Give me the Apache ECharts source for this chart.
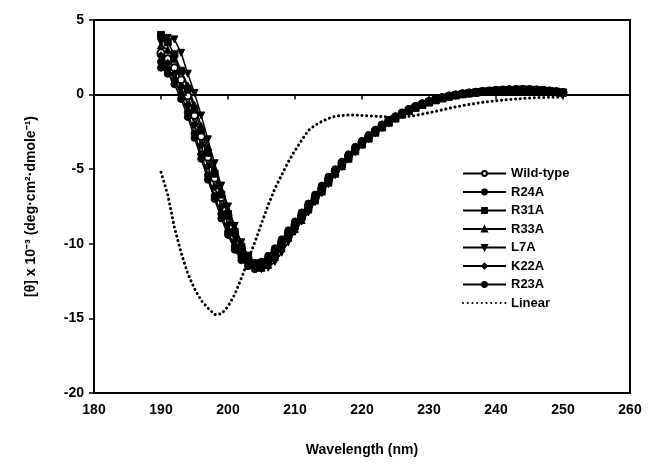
<!DOCTYPE html>
<html>
<head>
<meta charset="utf-8">
<script src="https://cdn.jsdelivr.net/npm/echarts@6/dist/echarts.min.js"></script>
<style>
  html, body { margin: 0; padding: 0; background: #fff; }
  #main { width: 650px; height: 469px; }
</style>
</head>
<body>
<div id="main"></div>
<script>
// wavelength sampling, 190..250 nm every 1 nm
var wavelength = [];
for (var w = 190; w <= 250; w++) wavelength.push(w);

// CD signal, [θ] x 10^-3
var wildType = [2.8,2.4,1.8,1.0,-0.1,-1.4,-2.8,-4.2,-5.6,-6.9,-8.1,-9.3,-10.3,-11.0,-11.4,-11.5,-11.1,
  -10.5,-9.9,-9.3,-8.7,-8.1,-7.5,-6.9,-6.3,-5.7,-5.1,-4.6,-4.1,-3.6,-3.2,-2.8,-2.4,-2.05,-1.75,-1.5,-1.25,
  -1.0,-0.8,-0.62,-0.46,-0.32,-0.2,-0.1,-0.02,0.05,0.11,0.16,0.2,0.24,0.27,0.3,0.32,0.33,0.34,0.33,0.31,0.28,0.24,0.19,0.14];
var r24a = [2.2,1.7,1.0,0.0,-1.2,-2.6,-4.0,-5.4,-6.8,-8.0,-9.2,-10.2,-10.9,-11.3,-11.4,-11.2,-10.8,
  -10.3,-9.7,-9.1,-8.5,-7.9,-7.3,-6.7,-6.1,-5.5,-5.0,-4.5,-4.0,-3.5,-3.1,-2.7,-2.35,-2.0,-1.7,-1.45,-1.2,
  -0.97,-0.77,-0.6,-0.44,-0.3,-0.18,-0.08,0.0,0.07,0.13,0.18,0.22,0.26,0.29,0.32,0.34,0.35,0.36,0.35,0.33,0.3,0.26,0.21,0.16];
var r31a = [4.0,3.5,2.7,1.6,0.4,-1.0,-2.4,-3.9,-5.3,-6.7,-8.0,-9.2,-10.2,-10.9,-11.3,-11.4,-11.1,
  -10.6,-10.0,-9.4,-8.8,-8.2,-7.6,-7.0,-6.4,-5.8,-5.2,-4.7,-4.2,-3.7,-3.3,-2.9,-2.5,-2.15,-1.85,-1.58,-1.32,
  -1.08,-0.87,-0.68,-0.52,-0.38,-0.25,-0.14,-0.05,0.02,0.08,0.13,0.18,0.22,0.25,0.28,0.3,0.31,0.32,0.31,0.29,0.26,0.22,0.17,0.12];
var r33a = [3.3,3.0,2.4,1.6,0.6,-0.7,-2.1,-3.5,-5.0,-6.4,-7.7,-8.9,-10.0,-10.8,-11.3,-11.6,-11.4,
  -10.9,-10.3,-9.6,-9.0,-8.4,-7.7,-7.1,-6.5,-5.9,-5.3,-4.8,-4.3,-3.8,-3.35,-2.95,-2.55,-2.2,-1.88,-1.6,-1.34,
  -1.1,-0.88,-0.69,-0.52,-0.37,-0.24,-0.13,-0.04,0.04,0.1,0.15,0.2,0.24,0.27,0.3,0.32,0.34,0.35,0.34,0.32,0.29,0.25,0.2,0.15];
var l7a = [3.5,3.8,3.7,2.8,1.4,0.1,-1.4,-3.0,-4.6,-6.1,-7.5,-8.8,-9.9,-10.8,-11.4,-11.7,-11.6,
  -11.2,-10.6,-9.9,-9.2,-8.5,-7.9,-7.2,-6.6,-6.0,-5.4,-4.85,-4.35,-3.85,-3.4,-3.0,-2.6,-2.25,-1.92,-1.63,-1.36,
  -1.12,-0.9,-0.7,-0.53,-0.38,-0.25,-0.14,-0.05,0.03,0.09,0.14,0.19,0.23,0.26,0.29,0.31,0.33,0.34,0.33,0.31,0.28,0.24,0.19,0.14];
var k22a = [2.6,2.1,1.4,0.5,-0.7,-2.0,-3.4,-4.8,-6.2,-7.5,-8.7,-9.8,-10.6,-11.2,-11.5,-11.5,-11.2,
  -10.6,-10.0,-9.35,-8.75,-8.15,-7.55,-6.95,-6.35,-5.75,-5.15,-4.65,-4.15,-3.65,-3.22,-2.82,-2.43,-2.08,-1.77,-1.51,-1.26,
  -1.02,-0.81,-0.63,-0.47,-0.33,-0.21,-0.11,-0.03,0.04,0.1,0.15,0.19,0.23,0.26,0.29,0.31,0.32,0.33,0.32,0.3,0.27,0.23,0.18,0.13];
var r23a = [1.8,1.4,0.7,-0.3,-1.5,-2.9,-4.3,-5.7,-7.0,-8.3,-9.4,-10.4,-11.1,-11.5,-11.7,-11.6,-11.2,
  -10.6,-9.95,-9.3,-8.65,-8.05,-7.45,-6.85,-6.25,-5.65,-5.1,-4.6,-4.1,-3.6,-3.18,-2.78,-2.4,-2.05,-1.75,-1.49,-1.24,
  -1.0,-0.8,-0.62,-0.46,-0.32,-0.2,-0.1,-0.02,0.05,0.11,0.16,0.21,0.25,0.28,0.31,0.33,0.34,0.35,0.34,0.32,0.29,0.25,0.2,0.15];
var linear = [-5.2,-6.7,-8.9,-10.6,-12.0,-13.0,-13.8,-14.3,-14.75,-14.7,-14.2,-13.4,-12.3,-11.1,-9.9,-8.65,-7.4,
  -6.3,-5.4,-4.5,-3.75,-3.05,-2.4,-2.05,-1.8,-1.6,-1.45,-1.4,-1.37,-1.37,-1.4,-1.42,-1.45,-1.48,-1.5,-1.5,-1.48,
  -1.45,-1.4,-1.3,-1.22,-1.12,-1.02,-0.92,-0.82,-0.74,-0.66,-0.59,-0.52,-0.46,-0.41,-0.37,-0.33,-0.29,-0.26,-0.23,-0.2,-0.19,-0.18,-0.17,-0.16];

function pairs(vals) {
  return wavelength.map(function (x, i) { return [x, vals[i]]; });
}

var myChart = echarts.init(document.getElementById('main'));
var font = 'Liberation Sans, Arial, sans-serif';

function mutant(name, vals, symbol, extra) {
  var s = {
    name: name,
    type: 'line',
    data: pairs(vals),
    symbol: symbol,
    symbolSize: 7,
    lineStyle: { color: '#000', width: 1.5 },
    itemStyle: { color: '#000', borderColor: '#000', borderWidth: 1 },
    z: 3
  };
  if (extra) for (var k in extra) s[k] = extra[k];
  return s;
}

var option = {
  backgroundColor: '#fff',
  animation: false,
  grid: { left: 94, right: 20, top: 20, bottom: 76, show: true, borderColor: '#000', borderWidth: 2 },
  legend: {
    orient: 'vertical',
    left: 457,
    top: 162,
    itemWidth: 43,
    itemHeight: 6,
    itemGap: 5.5,
    textStyle: { fontFamily: font, fontWeight: 'bold', fontSize: 13, color: '#000' },
    data: ['Wild-type', 'R24A', 'R31A', 'R33A', 'L7A', 'K22A', 'R23A',
      { name: 'Linear', itemStyle: { opacity: 0 } }]
  },
  xAxis: {
    type: 'value',
    min: 180, max: 260, interval: 10,
    name: 'Wavelength (nm)',
    nameLocation: 'middle',
    nameGap: 50,
    nameTextStyle: { fontFamily: font, fontWeight: 'bold', fontSize: 14, color: '#000' },
    axisLine: { lineStyle: { color: '#000', width: 2 } },
    axisTick: { show: true, length: 5, lineStyle: { color: '#000', width: 1.5 } },
    axisLabel: { fontFamily: font, fontWeight: 'bold', fontSize: 14, color: '#000', margin: 10 },
    splitLine: { show: false }
  },
  yAxis: {
    type: 'value',
    min: -20, max: 5, interval: 5,
    name: '[θ] x 10⁻³ (deg·cm²·dmole⁻¹)',
    nameLocation: 'middle',
    nameGap: 56,
    nameTextStyle: { fontFamily: font, fontWeight: 'bold', fontSize: 14, color: '#000' },
    axisLine: { show: true, lineStyle: { color: '#000', width: 2 } },
    axisTick: { show: true, length: 5, lineStyle: { color: '#000', width: 1.5 } },
    axisLabel: { fontFamily: font, fontWeight: 'bold', fontSize: 14, color: '#000', margin: 10 },
    splitLine: { show: false }
  },
  series: [
    mutant('Wild-type', wildType, 'emptyCircle'),
    mutant('R24A', r24a, 'circle'),
    mutant('R31A', r31a, 'rect'),
    mutant('R33A', r33a, 'triangle'),
    mutant('L7A', l7a, 'triangle', { symbolRotate: 180 }),
    mutant('K22A', k22a, 'diamond', { symbolSize: 8 }),
    mutant('R23A', r23a, 'circle'),
    {
      name: 'Linear',
      type: 'line',
      data: pairs(linear),
      symbol: 'none',
      lineStyle: { color: '#000', width: 3, type: [0.1, 4.6], cap: 'round' },
      itemStyle: { color: '#000' },
      z: 1,
      markLine: {
        silent: true,
        symbol: 'none',
        label: { show: false },
        lineStyle: { color: '#000', width: 1.5, type: [9, 5] },
        data: [{ yAxis: 0 }]
      }
    }
  ]
};
myChart.setOption(option);
</script>
</body>
</html>
